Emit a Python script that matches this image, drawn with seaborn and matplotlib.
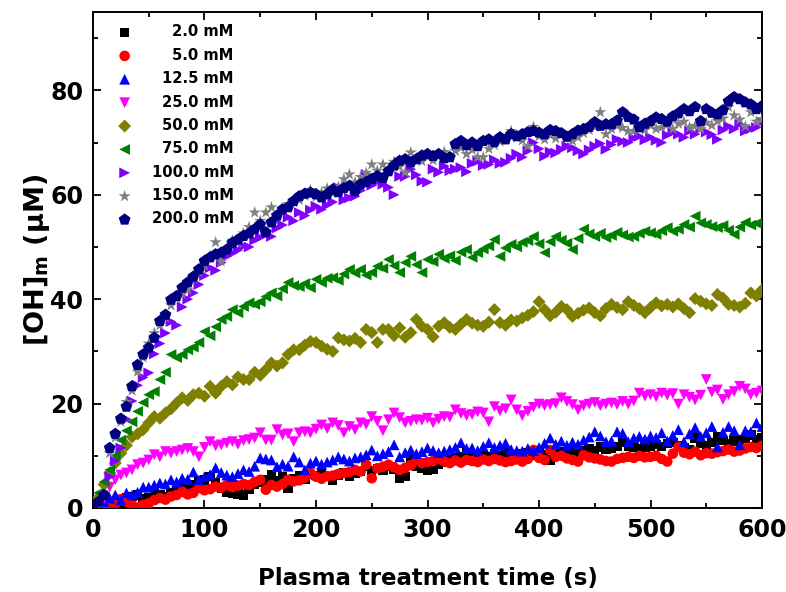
import numpy as np
import pandas as pd
import matplotlib
matplotlib.use('Agg')
import matplotlib.pyplot as plt
from matplotlib.ticker import MultipleLocator
import seaborn as sns

# time axis (s), one reading every 5 s
time_s = list(range(0, 601, 5))

conc_2 = [0.5, 1.0, 1.5, 0.8, 1.2, 1.0, 1.9, 2.2, 2.5, 1.8,
          2.0, 2.9, 2.6, 2.2, 3.0, 3.3, 4.1, 3.6, 4.4, 5.0,
          5.4, 6.0, 4.8, 3.8, 3.1, 2.9, 2.7, 2.5, 3.6, 4.5,
          5.0, 5.4, 6.3, 5.2, 6.0, 3.8, 5.6, 6.1, 5.5, 6.4,
          6.2, 6.6, 6.0, 5.4, 6.3, 6.8, 6.0, 6.6, 7.0, 7.9,
          7.2, 7.6, 7.3, 8.0, 7.4, 5.7, 6.0, 9.2, 8.0, 7.7,
          7.3, 7.5, 8.4, 8.8, 9.3, 9.7, 9.9, 10.5, 9.6, 9.8,
          10.2, 9.9, 10.4, 10.0, 10.5, 10.3, 9.8, 10.4, 10.6, 10.1,
          10.5, 10.2, 9.2, 10.4, 10.8, 10.6, 11.1, 10.7, 11.0, 11.4,
          10.9, 11.7, 11.2, 11.5, 11.8, 12.5, 11.9, 11.6, 11.4, 11.7,
          11.9, 12.2, 11.8, 12.3, 12.5, 12.0, 11.6, 11.1, 13.4, 12.4,
          12.0, 12.6, 13.6, 12.9, 12.4, 12.8, 13.1, 13.3, 14.0, 13.1,
          13.4]

conc_5 = [0.2, 0.5, 1.0, 0.4, 0.8, 1.7, 1.2, 0.5, 0.1, 0.6,
          0.9, 1.5, 1.9, 1.6, 2.2, 2.5, 3.1, 2.6, 2.9, 3.8,
          3.4, 3.6, 4.1, 3.9, 4.4, 4.0, 4.3, 4.6, 4.4, 5.0,
          5.4, 3.5, 4.4, 4.1, 4.6, 5.4, 5.1, 5.3, 5.8, 6.7,
          6.0, 5.6, 6.1, 6.2, 6.5, 6.7, 6.9, 7.3, 7.0, 8.3,
          5.7, 7.6, 7.9, 8.3, 7.8, 7.3, 7.7, 8.2, 9.2, 8.6,
          8.8, 9.0, 9.4, 8.9, 8.6, 9.1, 8.7, 9.2, 9.0, 8.8,
          9.3, 9.0, 9.4, 9.1, 8.8, 9.0, 9.3, 8.9, 9.4, 11.1,
          9.6, 9.2, 11.1, 9.8, 10.0, 9.5, 9.2, 8.9, 10.1, 9.7,
          9.5, 9.3, 9.0, 8.9, 9.4, 9.6, 9.8, 9.6, 10.0, 9.7,
          9.8, 10.0, 9.4, 8.9, 10.4, 11.7, 10.6, 10.3, 10.8, 10.1,
          10.5, 10.4, 10.7, 10.9, 11.2, 10.8, 11.0, 11.4, 11.7, 11.5,
          11.9]

conc_12_5 = [1.0, 0.5, 1.2, 1.9, 2.5, 1.5, 2.9, 2.5, 3.0, 4.0,
             4.0, 4.4, 4.8, 4.6, 5.4, 5.0, 5.7, 5.5, 6.9, 5.4,
             6.0, 6.4, 7.7, 6.8, 6.3, 6.0, 6.6, 7.3, 7.0, 8.0,
             9.6, 9.4, 9.2, 7.9, 8.4, 8.0, 9.8, 8.8, 7.3, 8.6,
             9.0, 8.4, 8.8, 9.2, 9.8, 9.4, 9.0, 9.6, 9.8, 10.2,
             11.1, 10.0, 10.4, 10.8, 12.1, 9.8, 10.6, 11.1, 10.4, 10.8,
             11.5, 11.0, 10.6, 10.9, 11.2, 11.6, 12.5, 11.4, 11.5, 11.0,
             11.8, 12.5, 11.6, 12.0, 12.4, 11.2, 11.0, 10.9, 11.4, 11.0,
             11.6, 12.4, 13.4, 12.2, 12.8, 12.0, 12.6, 12.2, 13.0, 13.6,
             14.6, 13.8, 12.7, 12.8, 14.6, 14.3, 12.7, 13.4, 13.7, 13.2,
             13.8, 13.5, 14.4, 12.8, 13.9, 15.0, 12.7, 14.2, 15.4, 13.7,
             14.4, 15.6, 11.7, 14.5, 15.6, 14.8, 12.1, 14.8, 14.6, 16.3,
             15.6]

conc_25 = [0.2, 0.6, 1.8, 4.0, 5.4, 6.3, 6.7, 7.3, 8.3, 8.6,
           9.2, 10.2, 9.8, 10.8, 10.5, 10.8, 11.1, 11.4, 10.8, 9.8,
           11.6, 12.7, 11.9, 12.1, 12.4, 12.7, 12.2, 12.9, 13.1, 13.4,
           14.4, 13.0, 13.0, 15.0, 14.0, 14.2, 12.7, 14.4, 14.6, 14.4,
           15.1, 15.9, 15.2, 16.3, 15.8, 14.4, 15.6, 15.0, 16.3, 16.0,
           17.5, 16.6, 14.8, 16.9, 18.2, 17.3, 16.3, 16.6, 16.9, 16.8,
           17.2, 16.3, 17.0, 17.5, 17.4, 18.8, 18.1, 17.7, 17.9, 18.4,
           18.2, 16.5, 19.4, 18.6, 19.0, 20.7, 18.8, 17.7, 18.5, 19.3,
           19.9, 19.6, 19.8, 20.0, 21.1, 20.4, 19.8, 18.8, 19.6, 19.9,
           20.2, 19.6, 19.9, 20.1, 19.8, 20.4, 19.9, 20.5, 22.0, 21.4,
           21.7, 21.3, 22.0, 21.6, 21.9, 19.9, 21.7, 21.2, 20.7, 21.6,
           24.6, 22.2, 22.6, 20.8, 21.7, 22.3, 23.3, 22.8, 21.7, 22.0,
           22.4]

conc_50 = [0.8, 2.0, 4.5, 6.7, 8.6, 10.5, 12.0, 13.6, 14.2, 15.0,
           16.3, 17.5, 17.2, 18.2, 19.0, 20.1, 21.1, 20.6, 21.7, 22.0,
           21.4, 23.3, 22.0, 23.3, 24.2, 23.6, 25.1, 24.6, 24.6, 26.0,
           25.4, 26.5, 27.8, 27.2, 27.8, 29.4, 30.3, 30.3, 31.2, 31.9,
           31.7, 31.0, 30.4, 30.0, 32.6, 32.2, 32.0, 32.5, 31.7, 34.2,
           33.6, 31.7, 34.2, 34.2, 33.0, 34.5, 32.7, 33.6, 36.1, 34.8,
           34.2, 32.8, 34.8, 35.5, 34.6, 34.2, 35.2, 36.1, 35.4, 35.0,
           34.8, 35.6, 38.0, 35.5, 35.0, 36.0, 35.8, 36.4, 36.9, 37.6,
           39.5, 38.0, 36.8, 37.5, 38.6, 38.0, 36.7, 37.3, 37.9, 38.3,
           37.4, 36.8, 38.2, 39.0, 38.4, 38.0, 39.5, 38.8, 38.2, 37.4,
           38.4, 39.3, 38.7, 39.0, 38.5, 39.1, 38.2, 37.4, 40.1, 39.6,
           39.1, 38.8, 40.9, 40.2, 39.0, 38.8, 38.5, 39.2, 41.2, 40.6,
           41.8]

conc_75 = [0.3, 2.9, 5.0, 7.3, 10.0, 13.0, 14.8, 16.5, 18.5, 20.2,
           21.7, 22.3, 24.6, 26.0, 29.4, 28.8, 29.4, 30.3, 30.8, 31.7,
           33.8, 33.0, 34.7, 36.1, 36.7, 38.0, 37.4, 38.6, 39.3, 39.0,
           39.5, 40.5, 41.2, 40.6, 42.0, 43.2, 42.6, 42.4, 43.0, 42.2,
           43.8, 43.2, 44.0, 44.1, 43.6, 44.8, 45.7, 45.0, 45.7, 44.6,
           45.1, 46.3, 45.9, 47.6, 46.4, 45.1, 47.0, 48.2, 46.6, 45.1,
           47.6, 47.2, 48.6, 47.8, 48.3, 47.4, 49.0, 49.5, 48.0, 48.9,
           49.6, 50.2, 51.4, 48.2, 49.8, 50.5, 50.0, 50.9, 51.2, 52.0,
           50.6, 48.9, 51.0, 52.0, 51.3, 50.7, 49.5, 51.6, 53.4, 52.5,
           52.0, 52.6, 51.8, 52.2, 52.8, 52.3, 51.9, 52.0, 52.6, 53.0,
           52.7, 52.4, 53.1, 53.7, 53.0, 53.4, 54.3, 53.8, 55.9, 54.6,
           54.3, 53.9, 53.7, 54.1, 53.2, 52.4, 53.8, 54.7, 54.2, 54.5,
           54.7]

conc_100 = [0.2, 0.8, 2.0, 6.0, 9.0, 11.5, 17.0, 20.5, 23.5, 25.0,
            25.9, 29.5, 31.5, 33.5, 35.7, 35.0, 38.5, 40.0, 41.2, 42.8,
            44.5, 46.0, 45.5, 47.0, 48.2, 48.8, 49.4, 50.2, 50.0, 51.3,
            51.8, 52.5, 52.0, 53.6, 54.2, 55.7, 55.0, 56.6, 56.0, 57.1,
            57.8, 57.2, 58.0, 58.6, 61.4, 59.0, 59.4, 59.7, 60.8, 63.9,
            61.8, 62.5, 62.0, 61.4, 60.0, 63.5, 63.5, 64.9, 63.8, 62.6,
            62.4, 64.9, 64.3, 65.5, 64.6, 64.9, 65.2, 64.4, 66.0, 66.4,
            65.6, 65.8, 66.7, 66.0, 66.2, 67.0, 67.8, 67.2, 68.4, 70.0,
            68.8, 67.4, 68.2, 68.0, 68.7, 69.3, 69.0, 68.4, 67.8, 68.6,
            69.3, 69.8, 68.7, 69.6, 70.6, 70.2, 70.0, 70.8, 71.2, 70.5,
            71.0, 70.4, 70.0, 71.4, 72.0, 71.6, 71.0, 72.2, 71.6, 72.6,
            72.0, 71.5, 70.6, 72.4, 73.1, 72.6, 73.5, 72.2, 72.6, 72.9,
            73.9]

conc_150 = [0.5, 1.0, 3.0, 10.5, 13.5, 16.5, 20.3, 22.5, 26.1, 28.8,
            31.5, 33.5, 35.0, 36.5, 38.8, 40.1, 41.0, 41.8, 44.0, 45.2,
            46.5, 48.2, 50.9, 47.2, 49.6, 51.2, 50.8, 52.6, 53.8, 56.6,
            55.0, 56.6, 57.6, 55.9, 57.0, 58.2, 58.6, 59.0, 59.8, 60.9,
            59.6, 60.4, 61.2, 60.3, 61.5, 63.0, 63.9, 62.4, 63.4, 64.2,
            65.8, 64.6, 65.8, 65.0, 66.3, 65.4, 64.3, 68.1, 67.0, 66.4,
            67.3, 66.6, 67.8, 68.2, 67.0, 68.4, 69.0, 67.8, 68.6, 67.2,
            67.2, 68.8, 69.5, 70.2, 70.8, 72.2, 71.0, 70.4, 69.3, 73.0,
            71.2, 70.6, 71.4, 70.8, 71.6, 70.9, 70.3, 71.0, 71.8, 72.4,
            73.0, 75.8, 71.6, 72.6, 73.2, 72.8, 72.2, 72.2, 73.0, 72.4,
            73.3, 72.6, 72.9, 73.4, 72.6, 73.6, 74.0, 72.9, 73.2, 72.6,
            73.8, 73.3, 74.1, 74.6, 76.8, 75.2, 74.4, 73.1, 75.8, 74.0,
            74.5]

conc_200 = [0.3, 1.2, 2.5, 11.5, 14.2, 17.1, 19.4, 23.3, 27.4, 29.4,
            30.7, 32.6, 35.8, 37.0, 39.9, 40.6, 42.2, 43.2, 44.3, 45.7,
            47.3, 48.0, 48.6, 48.9, 49.5, 50.8, 51.4, 52.1, 52.6, 53.4,
            54.3, 52.8, 54.7, 56.0, 57.2, 57.6, 58.8, 59.7, 60.2, 60.4,
            60.1, 59.5, 60.1, 61.0, 60.5, 61.3, 61.7, 60.7, 62.0, 62.4,
            63.0, 63.6, 63.2, 64.5, 65.6, 66.5, 66.8, 66.2, 66.8, 67.5,
            67.8, 67.4, 67.8, 67.0, 67.2, 69.7, 70.3, 69.5, 70.0, 69.3,
            70.3, 70.6, 70.1, 71.0, 70.6, 71.6, 71.2, 71.6, 72.0, 72.2,
            71.9, 71.6, 72.4, 72.2, 71.8, 71.1, 71.6, 72.3, 72.6, 73.0,
            73.9, 73.2, 73.5, 73.5, 74.2, 75.8, 74.9, 74.4, 72.9, 73.6,
            74.1, 74.8, 74.5, 74.0, 75.0, 75.6, 76.4, 76.0, 76.8, 74.1,
            76.4, 75.7, 75.4, 76.2, 77.9, 78.7, 78.3, 77.7, 77.3, 76.4,
            77.0]

labels = ['2.0 mM', '5.0 mM', '12.5 mM', '25.0 mM', '50.0 mM',
          '75.0 mM', '100.0 mM', '150.0 mM', '200.0 mM']
series = [conc_2, conc_5, conc_12_5, conc_25, conc_50,
          conc_75, conc_100, conc_150, conc_200]

# Origin-like styling per series
colors = ['#000000', '#FF0000', '#0000FF', '#FF00FF', '#808000',
          '#008000', '#8000FF', '#808080', '#000080']
markers = ['s', 'o', '^', 'v', 'D', '<', '>', '*', 'p']
sizes = [46, 58, 60, 60, 44, 60, 60, 85, 80]

sns.set_style('ticks')
plt.rcParams['font.family'] = ['DejaVu Sans']
plt.rcParams['font.weight'] = 'bold'
plt.rcParams['mathtext.fontset'] = 'dejavusans'
plt.rcParams['mathtext.default'] = 'bf'
for key in ['text.color', 'axes.labelcolor', 'xtick.color', 'ytick.color',
            'xtick.labelcolor', 'ytick.labelcolor', 'axes.edgecolor']:
    plt.rcParams[key] = 'black'

fig = plt.figure(figsize=(7.86, 5.92), dpi=100)
ax = fig.add_axes([0.1183, 0.1419, 0.8512, 0.8378])

for lab, vals, col, mk, sz in zip(labels, series, colors, markers, sizes):
    df = pd.DataFrame({'t': time_s, 'oh': vals})
    sns.scatterplot(data=df, x='t', y='oh', color=col, marker=mk, s=sz,
                    linewidth=0, edgecolor='none', label=lab, ax=ax, zorder=3)

ax.set_xlim(0, 600)
ax.set_ylim(0, 95)
ax.xaxis.set_major_locator(MultipleLocator(100))
ax.xaxis.set_minor_locator(MultipleLocator(50))
ax.yaxis.set_major_locator(MultipleLocator(20))
ax.yaxis.set_minor_locator(MultipleLocator(10))
ax.tick_params(which='both', direction='in', top=True, right=True, width=1.3,
               color='black', labelcolor='black')
ax.tick_params(which='major', length=5.5, labelsize=17, pad=7)
ax.tick_params(which='minor', length=3.5)
for lbl in ax.get_xticklabels() + ax.get_yticklabels():
    lbl.set_fontweight('bold')
for sp in ax.spines.values():
    sp.set_linewidth(1.4)
    sp.set_color('black')

ax.set_xlabel('Plasma treatment time (s)', fontsize=16.5, fontweight='bold',
              labelpad=18, color='black')
ax.set_ylabel('[OH]$_\\mathbf{m}$ (μM)', fontsize=19.5, fontweight='bold',
              labelpad=-1.5, color='black')

handles, hl = ax.get_legend_handles_labels()
leg = ax.legend(handles, hl, loc='upper left', bbox_to_anchor=(0.0165, 0.987),
                frameon=False, prop={'weight': 'bold', 'size': 10.6},
                handletextpad=0.84, labelspacing=0.57, borderaxespad=0.0,
                handlelength=2.0, markerscale=1.0)

# right-align legend labels like the original
fig.canvas.draw()
renderer = fig.canvas.get_renderer()
widths = [t.get_window_extent(renderer).width for t in leg.get_texts()]
maxw = max(widths)
for t, w in zip(leg.get_texts(), widths):
    t.set_color('black')
    t.set_position((maxw - w, 0))

fig.savefig('out.png', dpi=100)
plt.close(fig)
